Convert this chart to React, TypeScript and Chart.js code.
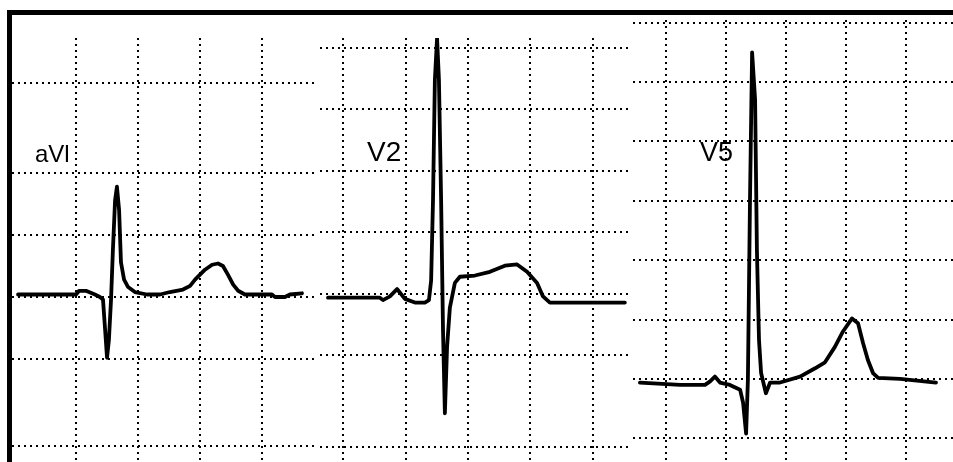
import React, { useEffect, useRef } from "react";
import { Chart, registerables } from "chart.js";

Chart.register(...registerables);

// ---- Lead aVl (time in ms, amplitude in mV) ----
const avlTimeMs = [13, 200, 210, 232, 261, 277, 287, 294, 300, 306, 313, 319, 326, 332, 339, 345, 355, 368, 390, 429, 471, 503, 545, 568, 584, 616, 639, 658, 674, 690, 707, 723, 745, 832, 842, 874, 890, 929];
const avlMv = [0.02, 0.02, 0.05, 0.05, 0.02, 0, -0.02, -0.27, -0.49, -0.35, -0.02, 0.38, 0.78, 0.89, 0.7, 0.28, 0.14, 0.08, 0.04, 0.02, 0.02, 0.04, 0.06, 0.09, 0.14, 0.22, 0.26, 0.27, 0.25, 0.18, 0.1, 0.05, 0.02, 0.02, 0, 0, 0.02, 0.03];
const avlGridMs = [200, 400, 600, 800];
const avlGridMv = [1.73, 1.0, 0.5, 0, -0.5, -1.2];

// ---- Lead V2 ----
const v2TimeMs = [152, 318, 328, 350, 373, 398, 430, 462, 475, 482, 488, 494, 501, 507, 514, 520, 526, 533, 542, 558, 574, 622, 670, 718, 757, 789, 821, 840, 862, 1102];
const v2Mv = [-0.03, -0.03, -0.05, -0.02, 0.04, -0.04, -0.07, -0.07, -0.05, 0.11, 0.76, 1.74, 2.08, 1.74, 0.76, -0.29, -0.97, -0.43, -0.11, 0.09, 0.14, 0.15, 0.18, 0.23, 0.24, 0.18, 0.09, -0.02, -0.07, -0.07];
const v2GridMs = [200, 400, 600, 800, 1000];
const v2GridMv = [2.0, 1.5, 1.0, 0.5, 0, -0.5, -1.24];

// ---- Lead V5 ----
const v5TimeMs = [113, 247, 330, 347, 363, 380, 413, 447, 457, 467, 473, 480, 487, 497, 503, 510, 517, 533, 547, 580, 647, 697, 730, 763, 790, 820, 840, 857, 873, 890, 907, 980, 1100];
const v5Mv = [-0.03, -0.05, -0.05, -0.02, 0.02, -0.03, -0.05, -0.09, -0.2, -0.46, -0.01, 1.51, 2.75, 2.35, 1.09, 0.33, 0.05, -0.12, -0.03, -0.03, 0.02, 0.09, 0.14, 0.27, 0.4, 0.51, 0.47, 0.3, 0.16, 0.05, 0.01, 0, -0.03];
const v5GridMs = [200, 400, 600, 800, 1000];
const v5GridMv = [3.0, 2.5, 2.0, 1.5, 1.0, 0.5, 0, -0.5];

const leadNames = ["aVl", "V2", "V5"];

type Panel = {
  times: number[];
  mv: number[];
  gridX: number[];
  gridY: number[];
  xMin: number;
  xMax: number;
  yMin: number;
  yMax: number;
  left: number;
  top: number;
  width: number;
  height: number;
};

const panels: Panel[] = [
  { times: avlTimeMs, mv: avlMv, gridX: avlGridMs, gridY: avlGridMv, xMin: -6.5, xMax: 980.6, yMin: -1.331, yMax: 2.089, left: 12, top: 38, width: 306, height: 424 },
  { times: v2TimeMs, mv: v2Mv, gridX: v2GridMs, gridY: v2GridMv, xMin: 126.4, xMax: 1118.4, yMin: -1.366, yMax: 2.081, left: 320, top: 38, width: 310, height: 424 },
  { times: v5TimeMs, mv: v5Mv, gridX: v5GridMs, gridY: v5GridMv, xMin: 90, xMax: 1156.7, yMin: -0.699, yMax: 3.022, left: 633, top: 20, width: 320, height: 442 },
];

const labelStyles = [
  { left: 35, top: 142, fontSize: 24 },
  { left: 367, top: 138, fontSize: 28 },
  { left: 700, top: 138.5, fontSize: 27 },
];

function EcgPanel({ panel }: { panel: Panel }) {
  const ref = useRef<HTMLCanvasElement>(null);
  useEffect(() => {
    if (!ref.current) return;
    const gridCommon = {
      ticks: { display: false },
      grid: { color: "#000", lineWidth: 2, drawTicks: false },
      border: { display: false, dash: [2, 4] },
    };
    const chart = new Chart(ref.current, {
      type: "line",
      data: {
        datasets: [
          {
            data: panel.times.map((t, i) => ({ x: t, y: panel.mv[i] })),
            borderColor: "#000",
            borderWidth: 3.8,
            pointRadius: 0,
            tension: 0,
            clip: false as any,
            borderJoinStyle: "round",
            borderCapStyle: "round",
          },
        ],
      },
      options: {
        animation: false,
        responsive: false,
        events: [],
        layout: { padding: 0 },
        plugins: { legend: { display: false }, tooltip: { enabled: false } },
        scales: {
          x: {
            type: "linear",
            min: panel.xMin,
            max: panel.xMax,
            afterBuildTicks: (s: any) => {
              s.ticks = panel.gridX.map((v) => ({ value: v }));
            },
            ...gridCommon,
          },
          y: {
            type: "linear",
            min: panel.yMin,
            max: panel.yMax,
            afterBuildTicks: (s: any) => {
              s.ticks = panel.gridY.map((v) => ({ value: v }));
            },
            ...gridCommon,
          },
        },
      } as any,
    });
    return () => chart.destroy();
  }, [panel]);
  return (
    <canvas
      ref={ref}
      width={panel.width}
      height={panel.height}
      style={{ position: "absolute", left: panel.left, top: panel.top, width: panel.width, height: panel.height }}
    />
  );
}

export default function App() {
  return (
    <div style={{ position: "absolute", left: 0, top: 0, width: 953, height: 462, background: "#fff", overflow: "hidden" }}>
      {panels.map((p, i) => (
        <EcgPanel key={i} panel={p} />
      ))}
      {leadNames.map((name, i) => (
        <div
          key={name}
          style={{
            position: "absolute",
            left: labelStyles[i].left,
            top: labelStyles[i].top,
            fontFamily: "'Liberation Sans', Arial, sans-serif",
            fontSize: labelStyles[i].fontSize,
            lineHeight: 1,
            color: "#000",
            whiteSpace: "nowrap",
          }}
        >
          {name}
        </div>
      ))}
      <div style={{ position: "absolute", left: 7, top: 10, width: 946, height: 5, background: "#000" }} />
      <div style={{ position: "absolute", left: 7, top: 10, width: 5, height: 452, background: "#000" }} />
    </div>
  );
}
